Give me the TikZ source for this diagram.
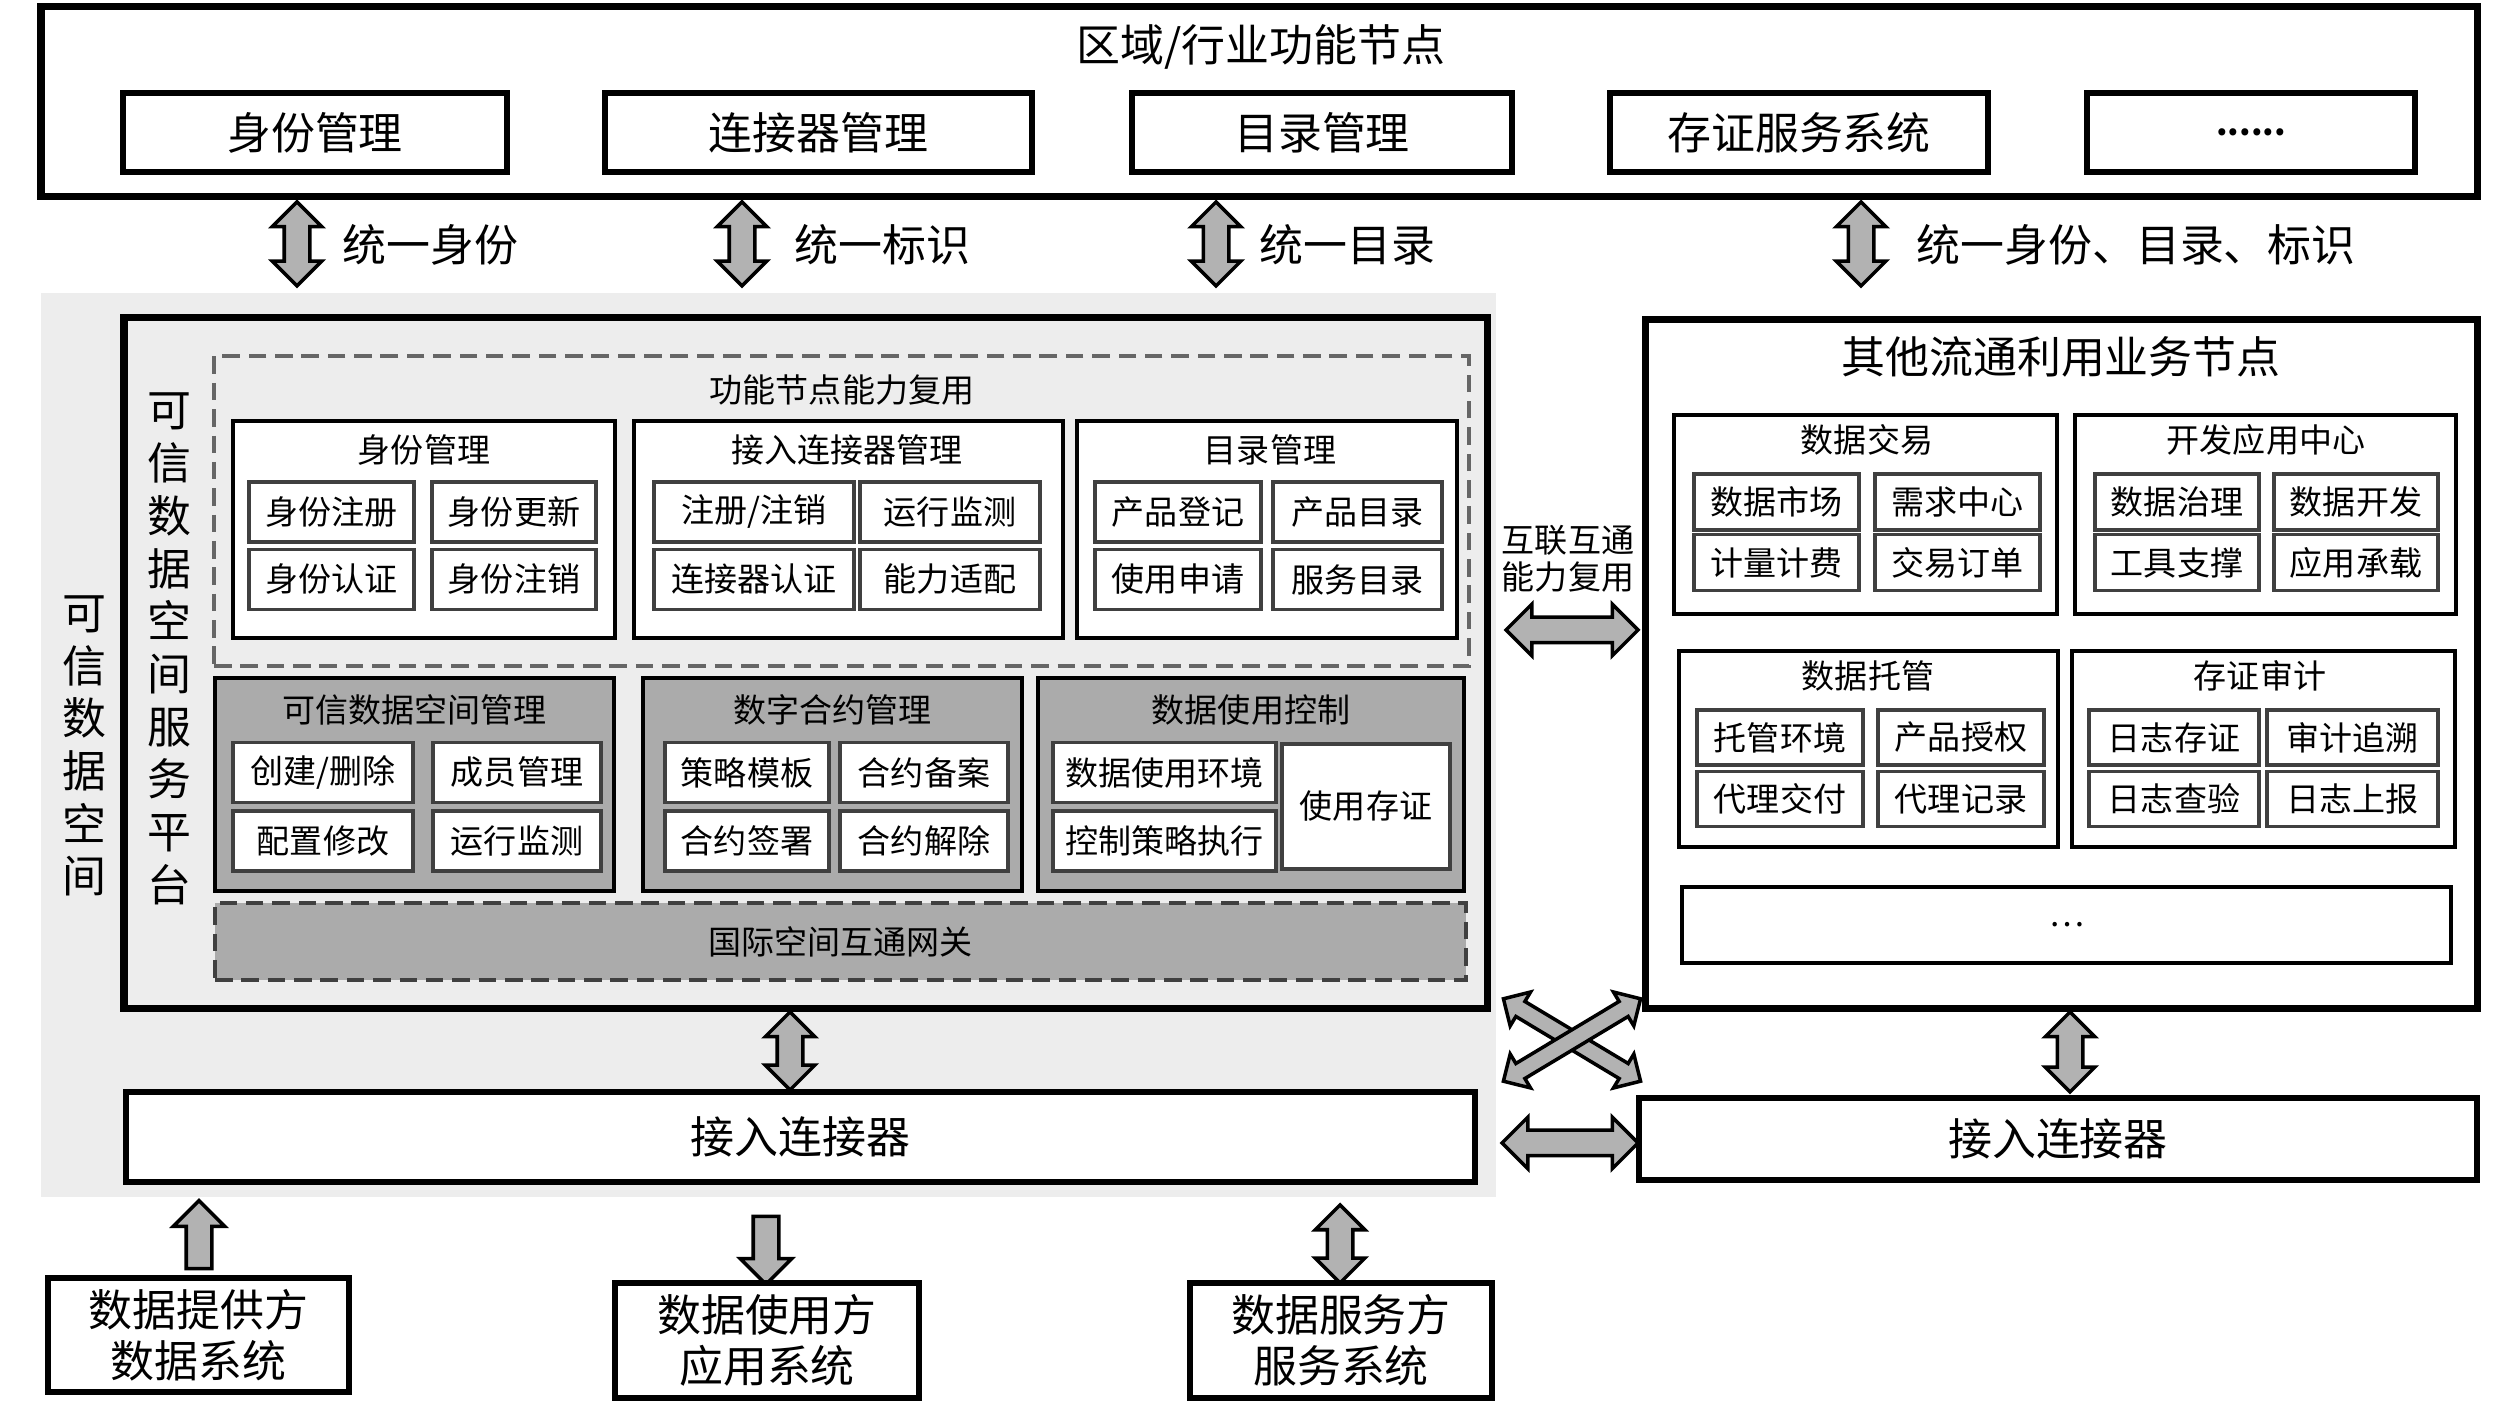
\documentclass[tikz,border=0pt]{standalone}
\usepackage{fontspec}
\setmainfont{Noto Sans CJK SC}
\usetikzlibrary{shapes.arrows}
\newcommand{\bigsize}{\fontsize{12.5}{15}\selectfont}
\newcommand{\smallsize}{\fontsize{9.4}{10.5}\selectfont}
\tikzset{
  outerbox/.style={draw,line width=2pt,inner sep=0pt},
  unitbox/.style={draw,line width=1.6pt,fill=white,font=\bigsize,inner sep=0pt},
  groupbox/.style={draw,line width=1.3pt,fill=white,inner sep=0pt},
  graybox/.style={draw,line width=1.3pt,fill=black!33,inner sep=0pt},
  itembox/.style={draw=black!75,line width=1pt,fill=white,font=\smallsize,inner sep=0pt,minimum height=0.6cm},
  dashedbox/.style={draw=black!60,line width=1.3pt,dash pattern=on 5pt off 2.5pt,inner sep=0pt},
  blkarrow/.style={draw,line width=1pt,fill=black!30,inner xsep=0pt,inner ysep=0.11cm},
  vdbl/.style={blkarrow,shape=double arrow,rotate=90,double arrow head extend=0.12cm},
  hdbl/.style={blkarrow,shape=double arrow,double arrow head extend=0.13cm},
  upone/.style={blkarrow,shape=single arrow,rotate=90,single arrow head extend=0.13cm},
  downone/.style={blkarrow,shape=single arrow,rotate=-90,single arrow head extend=0.13cm}
}
\begin{document}
\begin{tikzpicture}
\useasboundingbox (0,0) rectangle (25.2,14.01);
% light ground of the trusted data space
\fill[black!7] (0.41,2.04) rectangle (14.96,11.08);

% regional / industry function node
\node[outerbox,minimum width=24.36cm,minimum height=1.90cm] (region) at (12.59,12.99) {};
\node[font=\bigsize] (regionT) at (12.61,13.54) {区域/行业功能节点};
\node[unitbox,minimum width=3.84cm,minimum height=0.79cm] (rid) at (3.15,12.685) {身份管理};
\node[unitbox,minimum width=4.27cm,minimum height=0.79cm] (rconn) at (8.185,12.685) {连接器管理};
\node[unitbox,minimum width=3.80cm,minimum height=0.79cm] (rcat) at (13.22,12.685) {目录管理};
\node[unitbox,minimum width=3.78cm,minimum height=0.79cm] (rcert) at (17.99,12.685) {存证服务系统};
\node[unitbox,minimum width=3.28cm,minimum height=0.79cm,font=\smallsize\bfseries] (rmore) at (22.51,12.685) {......};

\node[vdbl,minimum height=0.84cm] (u1) at (2.97,11.57) {};
\node[font=\bigsize,anchor=west] (u1T) at (3.30,11.56) {统一身份};
\node[vdbl,minimum height=0.84cm] (u2) at (7.42,11.57) {};
\node[font=\bigsize,anchor=west] (u2T) at (7.82,11.56) {统一标识};
\node[vdbl,minimum height=0.84cm] (u3) at (12.16,11.57) {};
\node[font=\bigsize,anchor=west] (u3T) at (12.47,11.56) {统一目录};
\node[vdbl,minimum height=0.84cm] (u4) at (18.61,11.57) {};
\node[font=\bigsize,anchor=west] (u4T) at (19.04,11.56) {统一身份、目录、标识};

% trusted data space service platform
\node[font=\bigsize,align=center] (spaceT) at (0.84,6.55) {可\\信\\数\\据\\空\\间};
\node[outerbox,minimum width=13.63cm,minimum height=6.91cm] (plat) at (8.055,7.375) {};
\node[font=\bigsize,align=center] (platT) at (1.69,7.52) {可\\信\\数\\据\\空\\间\\服\\务\\平\\台};

\node[dashedbox,minimum width=12.55cm,minimum height=3.10cm] (reuse) at (8.415,8.90) {};
\node[font=\smallsize] (reuseT) at (8.42,10.11) {功能节点能力复用};

\node[groupbox,minimum width=3.82cm,minimum height=2.17cm] (pid) at (4.24,8.715) {};
\node[font=\smallsize] (pidT) at (4.24,9.51) {身份管理};
\node[itembox,minimum width=1.65cm] (pid1) at (3.315,8.89) {身份注册};
\node[itembox,minimum width=1.64cm] (pid2) at (5.14,8.89) {身份更新};
\node[itembox,minimum width=1.65cm] (pid3) at (3.315,8.215) {身份认证};
\node[itembox,minimum width=1.64cm] (pid4) at (5.14,8.215) {身份注销};

\node[groupbox,minimum width=4.29cm,minimum height=2.17cm] (pconn) at (8.485,8.715) {};
\node[font=\smallsize] (pconnT) at (8.47,9.51) {接入连接器管理};
\node[itembox,minimum width=2.00cm] (pconn1) at (7.54,8.89) {注册/注销};
\node[itembox,minimum width=1.80cm] (pconn2) at (9.50,8.89) {运行监测};
\node[itembox,minimum width=2.00cm] (pconn3) at (7.54,8.215) {连接器认证};
\node[itembox,minimum width=1.80cm] (pconn4) at (9.50,8.215) {能力适配};

\node[groupbox,minimum width=3.80cm,minimum height=2.17cm] (pcat) at (12.67,8.715) {};
\node[font=\smallsize] (pcatT) at (12.70,9.51) {目录管理};
\node[itembox,minimum width=1.66cm] (pcat1) at (11.78,8.89) {产品登记};
\node[itembox,minimum width=1.69cm] (pcat2) at (13.575,8.89) {产品目录};
\node[itembox,minimum width=1.66cm] (pcat3) at (11.78,8.215) {使用申请};
\node[itembox,minimum width=1.69cm] (pcat4) at (13.575,8.215) {服务目录};

\node[graybox,minimum width=3.99cm,minimum height=2.13cm] (mgmt) at (4.145,6.165) {};
\node[font=\smallsize] (mgmtT) at (4.145,6.91) {可信数据空间管理};
\node[itembox,minimum width=1.80cm] (mgmt1) at (3.23,6.285) {创建/删除};
\node[itembox,minimum width=1.68cm] (mgmt2) at (5.17,6.285) {成员管理};
\node[itembox,minimum width=1.80cm] (mgmt3) at (3.23,5.60) {配置修改};
\node[itembox,minimum width=1.68cm] (mgmt4) at (5.17,5.60) {运行监测};

\node[graybox,minimum width=3.79cm,minimum height=2.13cm] (contract) at (8.325,6.165) {};
\node[font=\smallsize] (contractT) at (8.325,6.91) {数字合约管理};
\node[itembox,minimum width=1.64cm] (contract1) at (7.47,6.285) {策略模板};
\node[itembox,minimum width=1.68cm] (contract2) at (9.24,6.285) {合约备案};
\node[itembox,minimum width=1.64cm] (contract3) at (7.47,5.60) {合约签署};
\node[itembox,minimum width=1.68cm] (contract4) at (9.24,5.60) {合约解除};

\node[graybox,minimum width=4.26cm,minimum height=2.13cm] (usage) at (12.51,6.165) {};
\node[font=\smallsize] (usageT) at (12.51,6.91) {数据使用控制};
\node[itembox,minimum width=2.23cm] (usage1) at (11.645,6.285) {数据使用环境};
\node[itembox,minimum width=2.23cm] (usage2) at (11.645,5.60) {控制策略执行};
\node[itembox,minimum width=1.68cm,minimum height=1.25cm] (usage3) at (13.66,5.945) {使用存证};

\node[dashedbox,draw=black!75,fill=black!33,minimum width=12.51cm,minimum height=0.77cm,font=\smallsize] (gate) at (8.405,4.595) {国际空间互通网关};

\node[vdbl,minimum height=0.78cm] (pc) at (7.90,3.50) {};
\node[unitbox,minimum width=13.49cm,minimum height=0.90cm] (conn) at (8.005,2.64) {接入连接器};

% data parties
\node[upone,minimum height=0.68cm] (a1) at (1.99,1.60) {};
\node[downone,minimum height=0.68cm] (a2) at (7.66,1.57) {};
\node[vdbl,minimum height=0.78cm] (a3) at (13.40,1.57) {};
\node[unitbox,minimum width=3.01cm,minimum height=1.14cm,align=center,font=\fontsize{12.5}{14.5}\selectfont] (prov) at (1.985,0.66) {数据提供方\\数据系统};
\node[unitbox,minimum width=3.04cm,minimum height=1.15cm,align=center,font=\fontsize{12.5}{14.5}\selectfont] (user) at (7.67,0.605) {数据使用方\\应用系统};
\node[unitbox,minimum width=3.02cm,minimum height=1.15cm,align=center,font=\fontsize{12.5}{14.5}\selectfont] (serv) at (13.41,0.605) {数据服务方\\服务系统};

% interconnection
\node[font=\smallsize,align=center] (icT) at (15.68,8.425) {互联互通\\能力复用};
\node[hdbl,minimum height=1.32cm] (ic) at (15.72,7.71) {};
\node[hdbl,minimum height=1.60cm,inner ysep=0.07cm,double arrow head extend=0.11cm,rotate=-31] (x1) at (15.72,3.61) {};
\node[hdbl,minimum height=1.60cm,inner ysep=0.07cm,double arrow head extend=0.11cm,rotate=31] (x2) at (15.72,3.61) {};
\node[hdbl,minimum height=1.36cm] (cc) at (15.70,2.58) {};

% other circulation and utilisation business node
\node[outerbox,fill=white,minimum width=8.32cm,minimum height=6.89cm] (biz) at (20.61,7.365) {};
\node[font=\bigsize] (bizT) at (20.61,10.44) {其他流通利用业务节点};

\node[groupbox,minimum width=3.83cm,minimum height=1.99cm] (trade) at (18.655,8.865) {};
\node[font=\smallsize] (tradeT) at (18.67,9.61) {数据交易};
\node[itembox,minimum width=1.65cm,minimum height=0.56cm] (trade1) at (17.765,8.99) {数据市场};
\node[itembox,minimum width=1.65cm,minimum height=0.56cm] (trade2) at (19.575,8.99) {需求中心};
\node[itembox,minimum width=1.65cm,minimum height=0.56cm] (trade3) at (17.765,8.385) {计量计费};
\node[itembox,minimum width=1.65cm,minimum height=0.56cm] (trade4) at (19.575,8.385) {交易订单};

\node[groupbox,minimum width=3.81cm,minimum height=1.99cm] (dev) at (22.655,8.865) {};
\node[font=\smallsize] (devT) at (22.66,9.61) {开发应用中心};
\node[itembox,minimum width=1.64cm,minimum height=0.56cm] (dev1) at (21.77,8.99) {数据治理};
\node[itembox,minimum width=1.64cm,minimum height=0.56cm] (dev2) at (23.56,8.99) {数据开发};
\node[itembox,minimum width=1.64cm,minimum height=0.56cm] (dev3) at (21.77,8.385) {工具支撑};
\node[itembox,minimum width=1.64cm,minimum height=0.56cm] (dev4) at (23.56,8.385) {应用承载};

\node[groupbox,minimum width=3.79cm,minimum height=1.96cm] (host) at (18.685,6.52) {};
\node[font=\smallsize] (hostT) at (18.68,7.25) {数据托管};
\node[itembox,minimum width=1.66cm,minimum height=0.55cm] (host1) at (17.80,6.635) {托管环境};
\node[itembox,minimum width=1.66cm,minimum height=0.55cm] (host2) at (19.61,6.635) {产品授权};
\node[itembox,minimum width=1.66cm,minimum height=0.55cm] (host3) at (17.80,6.02) {代理交付};
\node[itembox,minimum width=1.66cm,minimum height=0.55cm] (host4) at (19.61,6.02) {代理记录};

\node[groupbox,minimum width=3.83cm,minimum height=1.96cm] (audit) at (22.635,6.52) {};
\node[font=\smallsize] (auditT) at (22.60,7.25) {存证审计};
\node[itembox,minimum width=1.70cm,minimum height=0.55cm] (audit1) at (21.74,6.635) {日志存证};
\node[itembox,minimum width=1.71cm,minimum height=0.55cm] (audit2) at (23.525,6.635) {审计追溯};
\node[itembox,minimum width=1.70cm,minimum height=0.55cm] (audit3) at (21.74,6.02) {日志查验};
\node[itembox,minimum width=1.71cm,minimum height=0.55cm] (audit4) at (23.525,6.02) {日志上报};

\node[groupbox,minimum width=7.69cm,minimum height=0.76cm,font=\smallsize] (bmore) at (20.665,4.76) {…};

\node[vdbl,minimum height=0.80cm] (bc) at (20.70,3.49) {};
\node[unitbox,minimum width=8.38cm,minimum height=0.82cm] (bconn) at (20.58,2.62) {接入连接器};
\end{tikzpicture}
\end{document}
